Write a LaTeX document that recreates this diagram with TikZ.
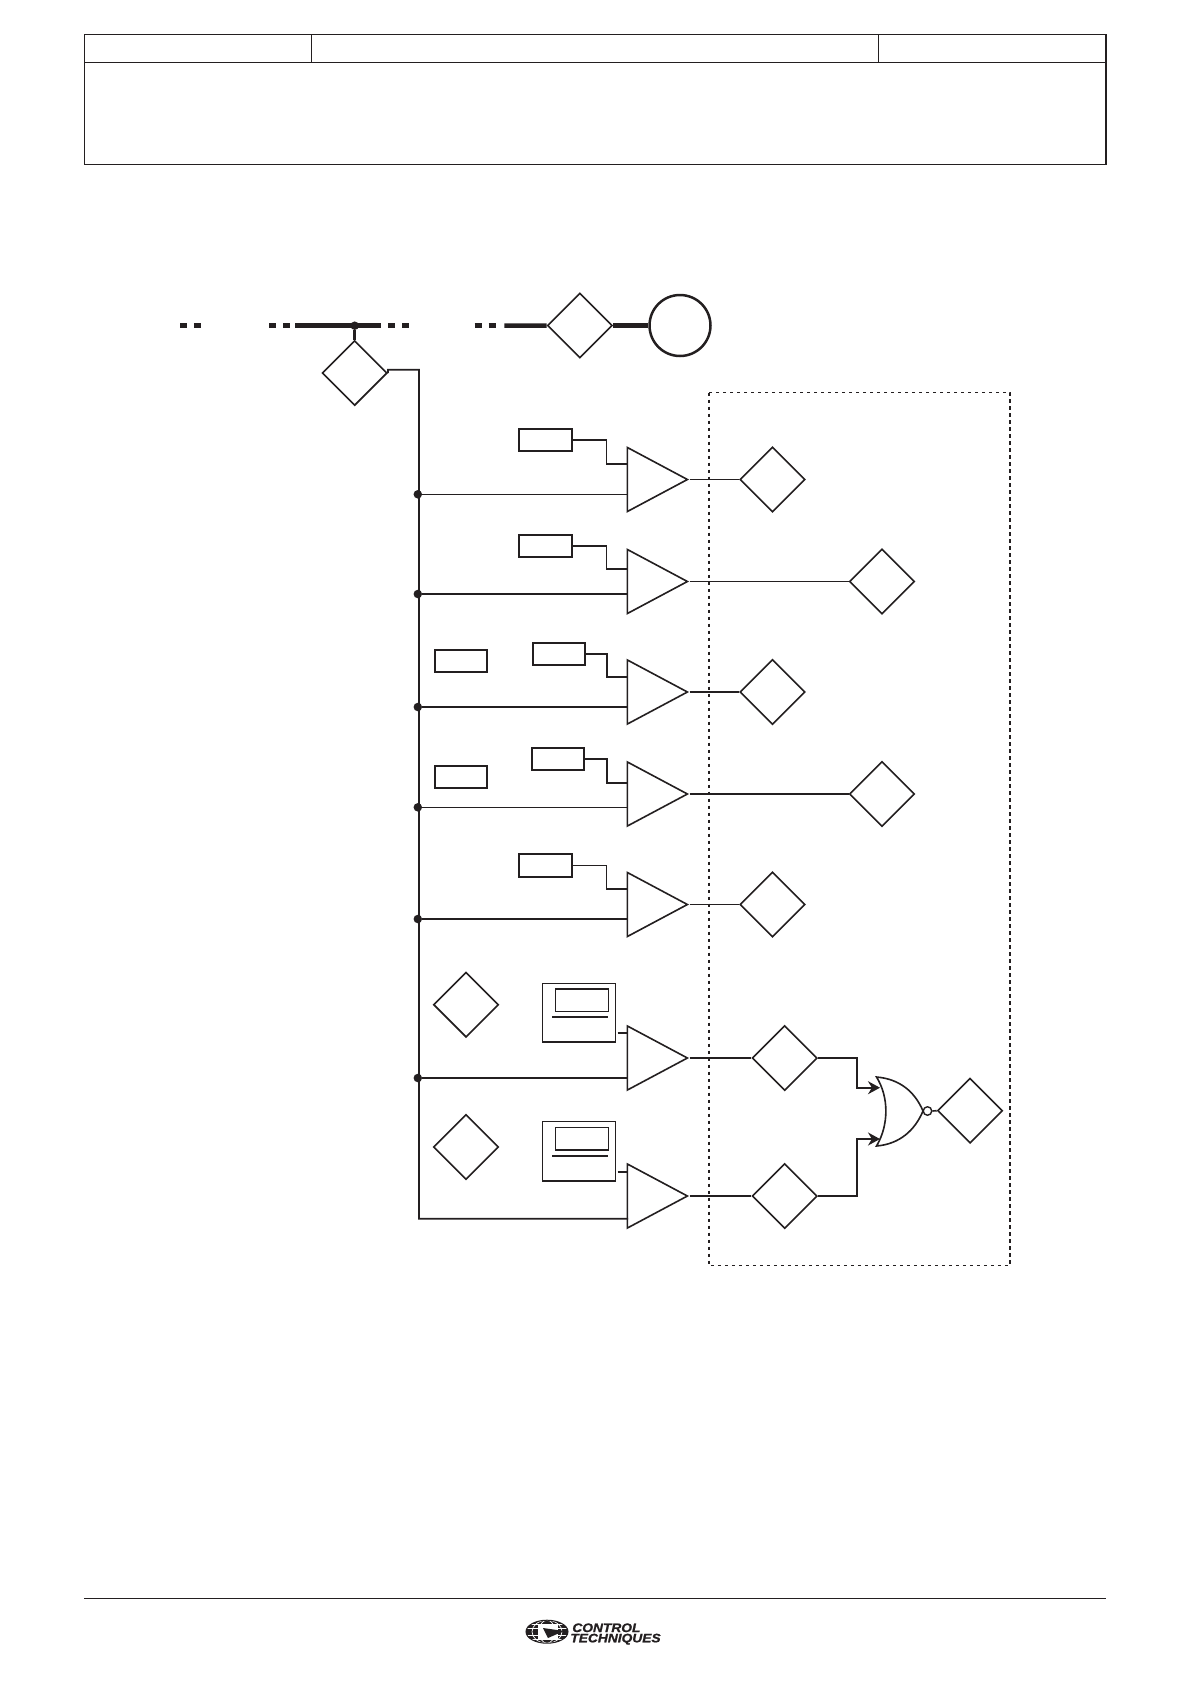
\documentclass[tikz,border=0pt]{standalone}
\usepackage{fontspec}
\usepackage{tikz}
\usetikzlibrary{shapes,arrows.meta,positioning,calc}
\newfontfamily\logofont[BoldItalicFeatures={FakeStretch=1.12,FakeBold=1.2}]{Liberation Sans}
\definecolor{ink}{RGB}{35,31,32}
\begin{document}
\begin{tikzpicture}[
    x=0.02cm, y=-0.02cm,
    line join=miter,
    wire/.style={draw=ink, line width=0.032cm},
    frameline/.style={draw=ink, line width=0.03cm},
    power/.style={draw=ink, line width=0.09cm},
    powerdash/.style={power, dash pattern=on 0.14cm off 0.14cm},
    diam/.style={diamond, draw=ink, line width=0.032cm, inner sep=0pt, minimum size=1.3cm, fill=white},
    amp/.style={isosceles triangle, isosceles triangle stretches, draw=ink, line width=0.032cm, inner sep=0pt, minimum width=1.28cm, minimum height=1.2cm, fill=white},
    param/.style={rectangle, draw=ink, line width=0.032cm, inner sep=0pt, minimum width=1.05cm, minimum height=0.45cm},
    screen/.style={rectangle, draw=ink, line width=0.032cm, inner sep=0pt, minimum width=1.46cm},
    dot/.style={circle, fill=ink, inner sep=0pt, minimum size=0.17cm},
    arr/.style={wire, -{Stealth[length=2.4mm,width=2.6mm]}},
    logotext/.style={inner sep=0pt, anchor=base west, text=ink, font=\logofont\bfseries\itshape\fontsize{7}{9}\selectfont}
]
\useasboundingbox (0,0) rectangle (1190,1684);

% Header table
\draw[frameline] (84.3,34.3) rectangle (1106,164.3);
\draw[frameline] (84.3,62.3) -- (1106,62.3);
\draw[frameline] (311.3,34.3) -- (311.3,62.3);
\draw[frameline] (878.5,34.3) -- (878.5,62.3);

% Footer
\draw[frameline] (84.3,1598.3) -- (1106,1598.3);

% Supply bus and motor
\coordinate (busa) at (180,325.7);
\coordinate (busb) at (203,325.7);
\coordinate (busc) at (269,325.7);
\coordinate (busd) at (292,325.7);
\coordinate (buse) at (295.4,325.7);
\coordinate (busf) at (381,325.7);
\coordinate (busg) at (388,325.7);
\coordinate (bush) at (412,325.7);
\coordinate (busi) at (474.5,325.7);
\coordinate (busj) at (499,325.7);
\coordinate (busk) at (504.4,325.7);
\node[diam] (drive) at (579.8,325.5) {};
\node[circle, draw=ink, line width=0.05cm, inner sep=0pt, minimum size=1.22cm] (motor) at (680,325.5) {};
\node[dot] (tap) at (354.7,325.7) {};
\node[diam] (sense) at (354.7,373) {};
\draw[powerdash] (busa) -- (busb);
\draw[powerdash] (busc) -- (busd);
\draw[power] (buse) -- (busf);
\draw[powerdash] (busg) -- (bush);
\draw[powerdash] (busi) -- (busj);
\draw[power] (busk) -- (drive.west);
\draw[power] (drive.east) -- (motor.west);
\draw[draw=ink, line width=0.07cm] (tap) -- (sense.north);

% Protection window
\draw[draw=ink, line width=0.025cm, dash pattern=on 0.07cm off 0.07cm] (709,392.7) rectangle (1010,1265.7);

% Comparators
\node[amp, anchor=apex] (amp1) at (689.5,479.5) {};
\node[amp, anchor=apex] (amp2) at (689.5,581.5) {};
\node[amp, anchor=apex] (amp3) at (689.5,692) {};
\node[amp, anchor=apex] (amp4) at (689.5,794) {};
\node[amp, anchor=apex] (amp5) at (689.5,904.5) {};
\node[amp, anchor=apex] (amp6) at (689.5,1058) {};
\node[amp, anchor=apex] (amp7) at (689.5,1196) {};

% Trip outputs
\node[diam] (out1) at (772.5,479.5) {};
\node[diam] (out2) at (882,581.5) {};
\node[diam] (out3) at (772.5,692) {};
\node[diam] (out4) at (882,794) {};
\node[diam] (out5) at (772.5,904.5) {};
\node[diam] (out6) at (784.7,1058) {};
\node[diam] (out7) at (784.7,1196) {};
\node[diam] (out8) at (970,1110.7) {};
\foreach \n in {1,...,7} \draw[wire] (amp\n.apex) -- (out\n.west);

% Thresholds
\node[param] (ref1) at (545.5,440) {};
\node[param] (ref2) at (545.5,546) {};
\node[param] (ref3) at (559,654) {};
\node[param] (ref4) at (558,759) {};
\node[param] (ref5) at (545.5,865.5) {};
\node[param] (lim3) at (461,661) {};
\node[param] (lim4) at (461,777) {};
\coordinate (in1) at (628,463.7);
\coordinate (in2) at (628,569);
\coordinate (in3) at (628,676.7);
\coordinate (in4) at (628,782.7);
\coordinate (in5) at (628,889);
\draw[wire] (ref1.east) -- ++(34,0) |- (in1);
\draw[wire] (ref2.east) -- ++(34,0) |- (in2);
\draw[wire] (ref3.east) -- ++(21,0) |- (in3);
\draw[wire] (ref4.east) -- ++(22,0) |- (in4);
\draw[wire] (ref5.east) -- ++(34,0) |- (in5);

% Measurement rail
\coordinate (rail) at (419,369.7);
\coordinate (low1) at (628,494.3);
\coordinate (low2) at (628,594);
\coordinate (low3) at (628,707);
\coordinate (low4) at (628,807.3);
\coordinate (low5) at (628,919);
\coordinate (low6) at (628,1078);
\coordinate (low7) at (628,1218.7);
\draw[wire] (sense.east) -- ++(0,-3.3) -- (rail) |- (low7);
\node[dot] (j1) at (417.8,494.3) {};
\node[dot] (j2) at (417.8,594) {};
\node[dot] (j3) at (417.8,707) {};
\node[dot] (j4) at (417.8,807.3) {};
\node[dot] (j5) at (417.8,919) {};
\node[dot] (j6) at (417.8,1078) {};
\foreach \n in {1,...,6} \draw[wire] (j\n) -- (low\n);

% Speed thresholds with small screens
\node[diam] (set1) at (466,1004.7) {};
\node[diam] (set2) at (466,1147) {};
\node[screen, minimum height=1.17cm] (scr1) at (579,1012.7) {};
\node[screen, minimum height=1.19cm] (scr2) at (579,1151.4) {};
\node[param, minimum width=1.06cm, minimum height=0.45cm] (win1) at (582,1000.3) {};
\node[param, minimum width=1.06cm, minimum height=0.45cm] (win2) at (582,1138.9) {};
\draw[wire] (552,1017) -- (608,1017);
\draw[wire] (552,1155.7) -- (608,1155.7);
\coordinate (st1) at (617.5,1033);
\coordinate (st2) at (617.5,1171.7);
\coordinate (in6) at (628,1033);
\coordinate (in7) at (628,1171.7);
\draw[wire] (st1) -- (in6);
\draw[wire] (st2) -- (in7);

% NOR gate
\draw[wire, fill=white] (876.5,1077) .. controls (900,1079) and (915,1092) .. (923,1111)
    .. controls (915,1130) and (900,1144) .. (876.5,1146)
    .. controls (889,1125) and (889,1097) .. (876.5,1077) -- cycle;
\node[circle, draw=ink, line width=0.028cm, inner sep=0pt, minimum size=0.17cm] (bub) at (927.5,1111) {};
\coordinate (nora) at (880,1087.7);
\coordinate (norb) at (880,1139);
\draw[arr] (out6.east) -- ++(39,0) |- (nora);
\draw[arr] (out7.east) -- ++(39,0) |- (norb);
\draw[wire] (bub.east) -- (out8.west);

% Logo
\begin{scope}
\clip (547,1631.7) ellipse [x radius=21, y radius=11.5];
\fill[ink] (526,1620) rectangle (568,1643);
\foreach \h in {1624.5,1628,1635.5,1639} \draw[white, line width=0.014cm] (526,\h) -- (568,\h);
\foreach \r in {8,15} \draw[white, line width=0.014cm] (547,1631.7) ellipse [x radius=\r, y radius=11.5];
\fill[white] (538,1624.5) rectangle (558,1638.5);
\fill[ink] (543,1628) -- (564,1631) -- (548,1638) -- cycle;
\end{scope}
\draw[ink, line width=0.02cm] (547,1631.7) ellipse [x radius=21, y radius=11.5];
\node[logotext] (logoa) at (572,1632) {CONTROL};
\node[logotext] (logob) at (570,1642.3) {TECHNIQUES};
\end{tikzpicture}
\end{document}
